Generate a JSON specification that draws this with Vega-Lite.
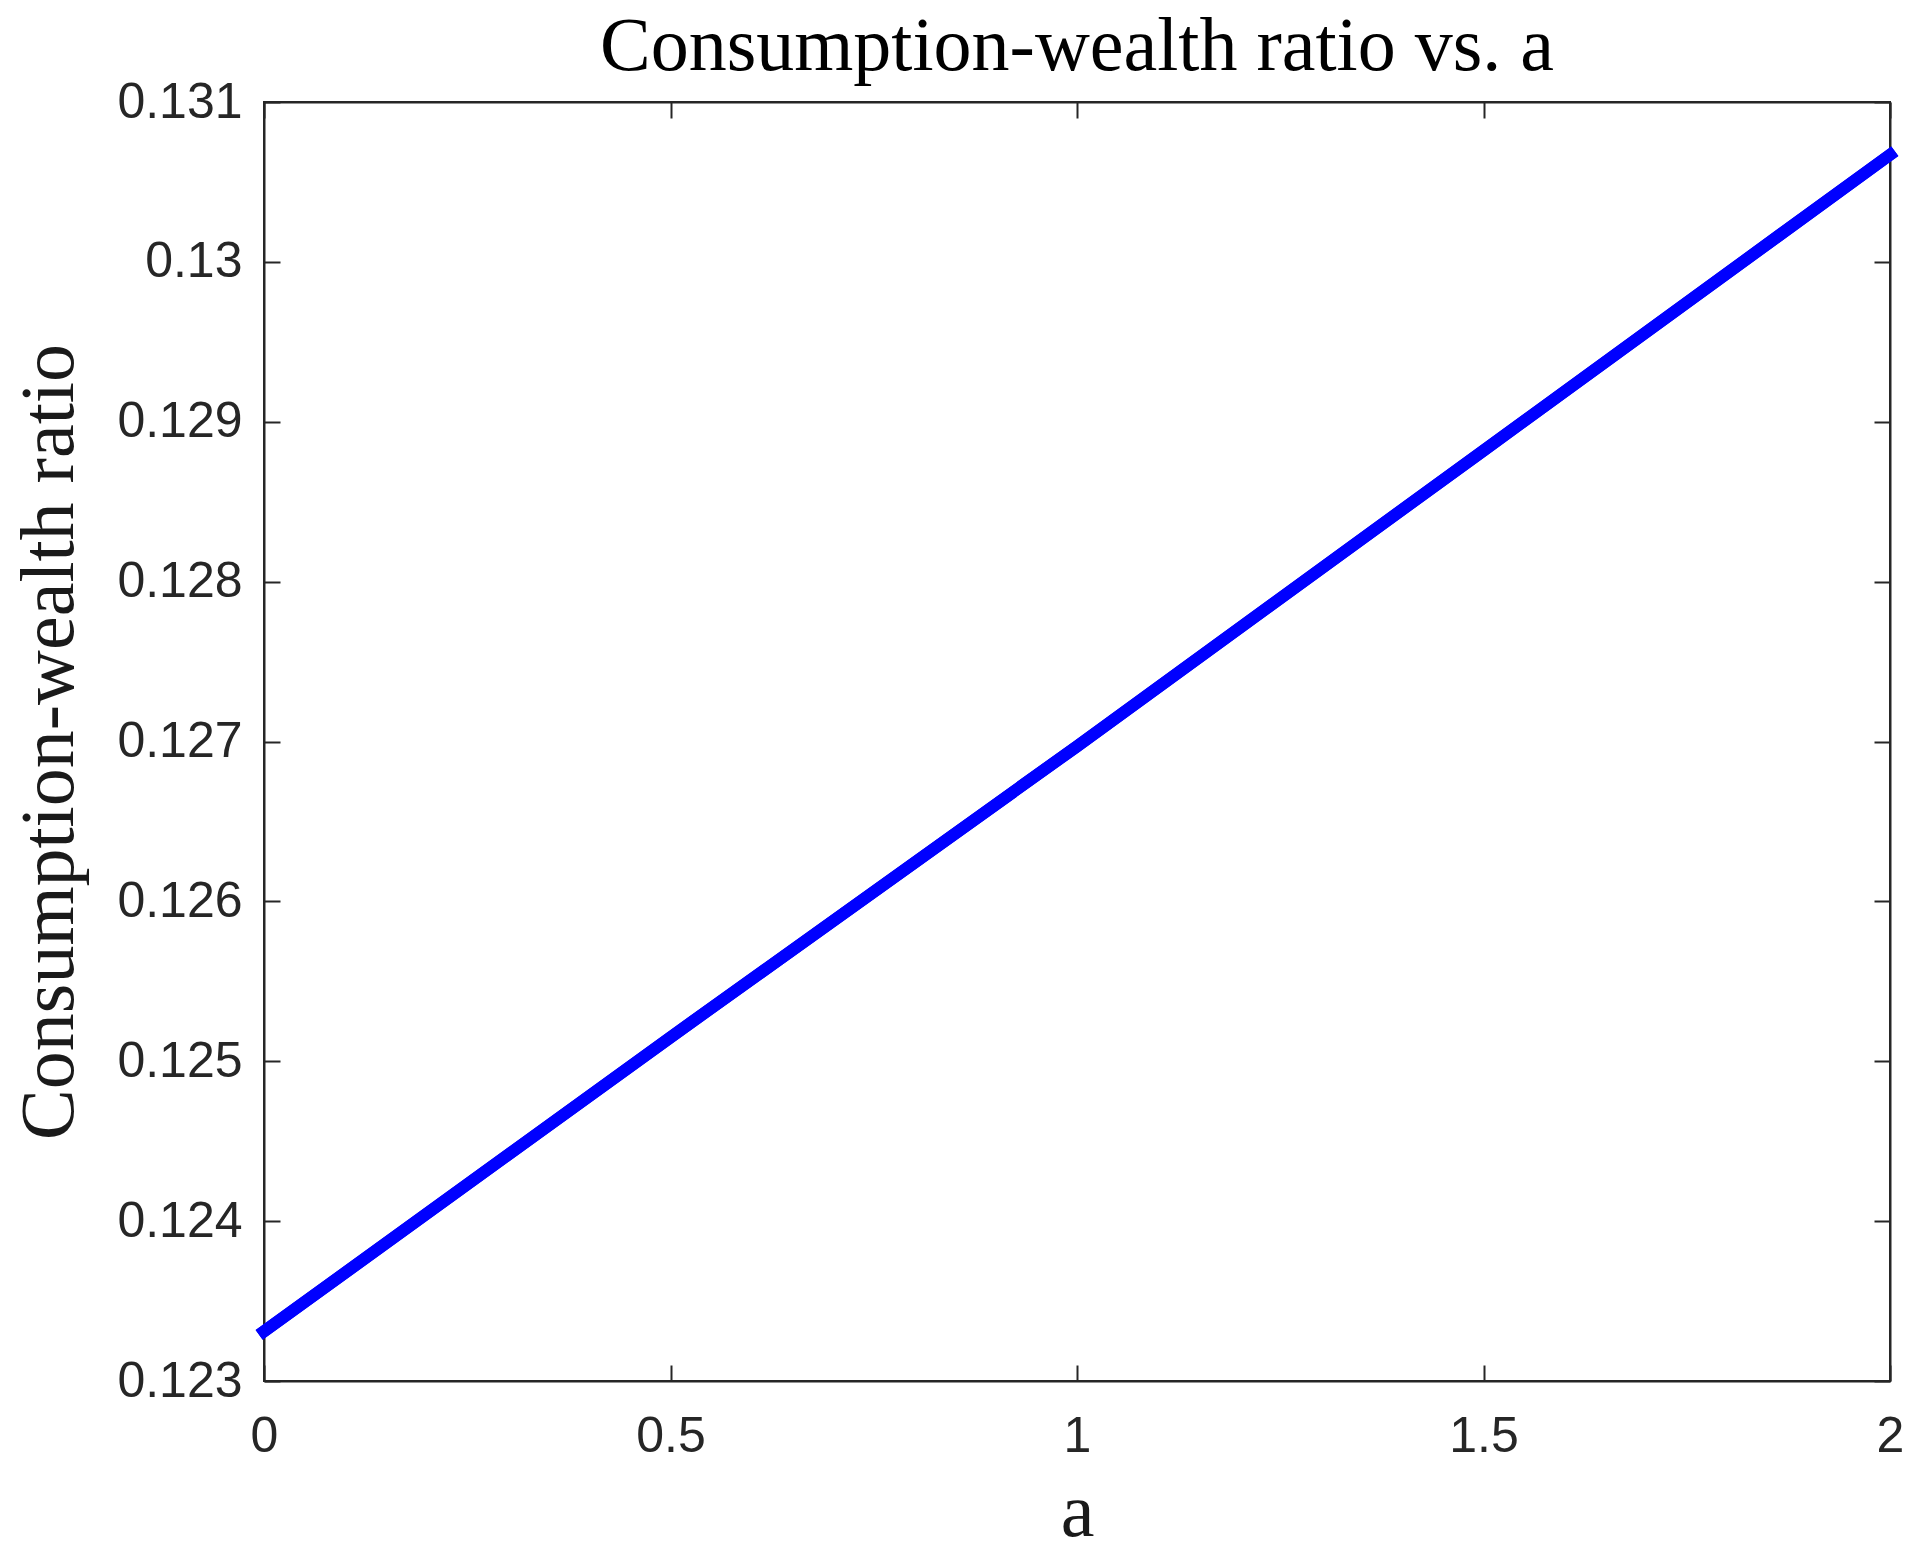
{
  "$schema": "https://vega.github.io/schema/vega-lite/v6.json",
  "autosize": "none",
  "width": 1626,
  "height": 1279,
  "padding": {"left": 264, "top": 102, "right": 38, "bottom": 170},
  "background": "white",
  "title": {
    "text": "Consumption-wealth ratio vs. a",
    "font": "Liberation Serif",
    "fontSize": 76,
    "fontWeight": "normal",
    "color": "#000000",
    "offset": -9,
    "anchor": "middle"
  },
  "config": {
    "view": {"stroke": "#262626", "strokeWidth": 2},
    "axis": {
      "grid": false,
      "domainColor": "#262626",
      "domainWidth": 2,
      "tickColor": "#262626",
      "tickWidth": 2,
      "tickSize": -16,
      "labelFont": "Liberation Sans",
      "labelFontSize": 50,
      "labelColor": "#262626",
      "titleFont": "Liberation Serif",
      "titleFontSize": 76,
      "titleFontWeight": "normal",
      "titleColor": "#1a1a1a"
    }
  },
  "data": {
    "values": [
      {"a": 0, "c": 0.12331},
      {"a": 0.5, "c": 0.12515},
      {"a": 1, "c": 0.12697},
      {"a": 1.5, "c": 0.12882},
      {"a": 2, "c": 0.13067}
    ]
  },
  "resolve": {"axis": {"x": "independent", "y": "independent"}},
  "layer": [
    {
      "mark": {"type": "line", "color": "#0000ff", "strokeWidth": 12, "strokeCap": "square"},
      "encoding": {
        "x": {
          "field": "a", "type": "quantitative",
          "scale": {"domain": [0, 2], "nice": false, "zero": false},
          "axis": {"values": [0, 0.5, 1, 1.5, 2], "format": "~g", "title": "a", "labelPadding": 46, "titlePadding": 14, "labelFlush": false}
        },
        "y": {
          "field": "c", "type": "quantitative",
          "scale": {"domain": [0.123, 0.131], "nice": false, "zero": false},
          "axis": {"values": [0.123, 0.124, 0.125, 0.126, 0.127, 0.128, 0.129, 0.13, 0.131], "format": "~g", "title": "Consumption-wealth ratio", "labelPadding": 38, "titlePadding": 28, "labelFlush": false}
        }
      }
    },
    {
      "mark": {"type": "line", "color": "#0000ff", "strokeWidth": 12, "strokeCap": "square"},
      "encoding": {
        "x": {
          "field": "a", "type": "quantitative",
          "axis": {"orient": "top", "values": [0, 0.5, 1, 1.5, 2], "labels": false, "title": null}
        },
        "y": {
          "field": "c", "type": "quantitative",
          "axis": {"orient": "right", "values": [0.123, 0.124, 0.125, 0.126, 0.127, 0.128, 0.129, 0.13, 0.131], "labels": false, "title": null}
        }
      }
    }
  ]
}
